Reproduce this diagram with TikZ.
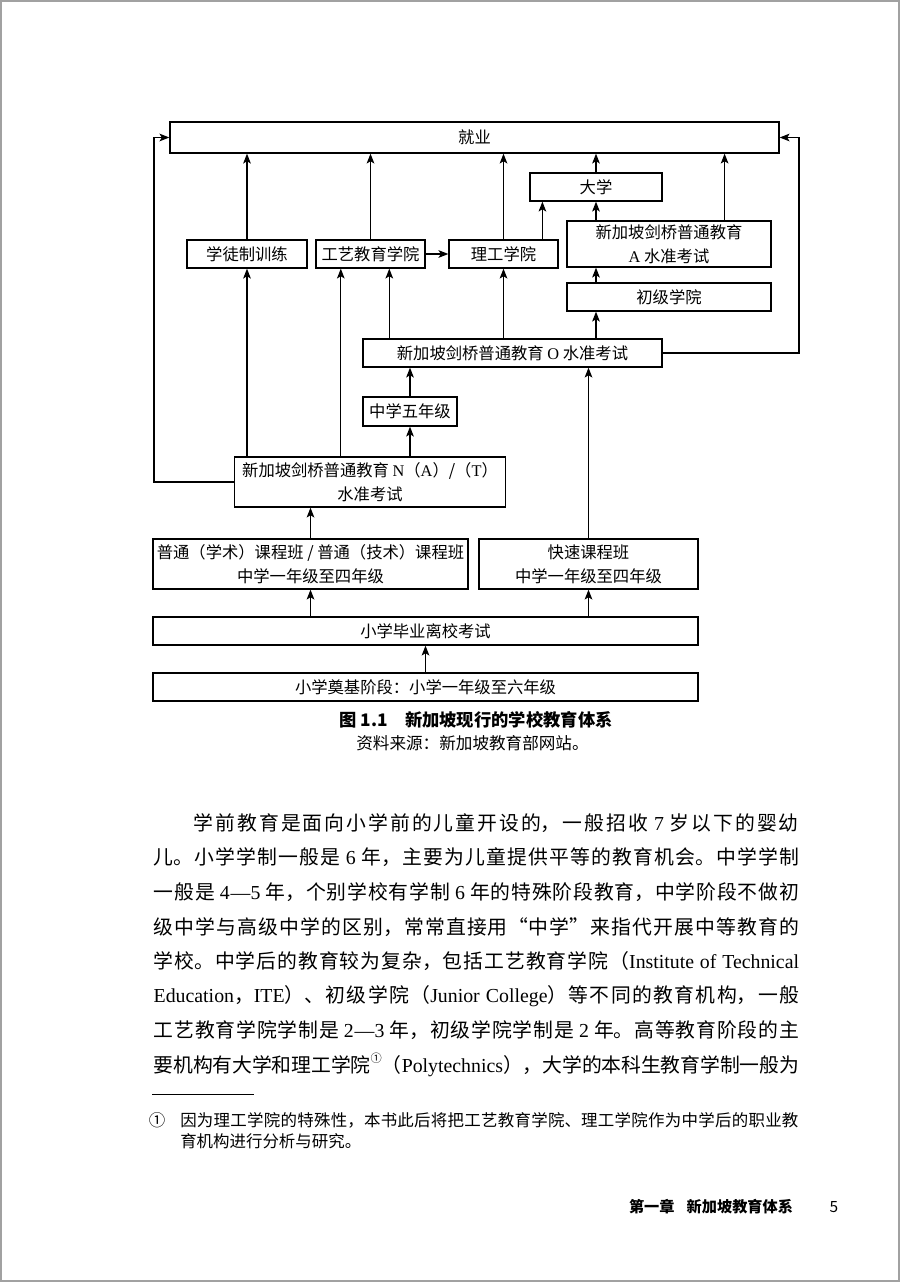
\documentclass[tikz,border=0pt]{standalone}
\usepackage{fontspec}
\setmainfont{Noto Sans CJK SC}
\newfontfamily\lat{Liberation Serif}
\usetikzlibrary{arrows.meta}
\XeTeXlinebreaklocale "zh"
\XeTeXlinebreakskip=0pt plus 2pt minus 0.5pt

\newcommand\diagfont{\fontsize{11.6pt}{17pt}\selectfont}
\newcommand\bodyfont{\fontsize{14.1pt}{20pt}\selectfont}
\newcommand\notefont{\fontsize{11.7pt}{14pt}\selectfont}
\newcommand\jline[1]{\tolerance=9999\parfillskip=0pt\relax#1\par}

\tikzset{
  stage/.style={draw, line width=0.9pt, inner sep=0pt, align=center, font=\diagfont},
  wh/.style 2 args={minimum width=#1*0.025cm, minimum height=#2*0.025cm},
  flow/.style={->, line width=0.9pt},
  bodyline/.style={anchor=west, inner sep=0pt, font=\bodyfont, text width=#1, align=justify},
  noteline/.style={anchor=west, inner sep=0pt, font=\notefont, text width=#1, align=justify},
}

\begin{document}
\begin{tikzpicture}[x=0.025cm, y=-0.025cm, >={Stealth[length=7pt,width=5.4pt,inset=1.6pt]}]
  \useasboundingbox (0,0) rectangle (900,1282);
  \draw[line width=1.4pt, black!37] (1,1) rectangle (899,1281);

  % stages
  \node[stage, wh={609}{31}] (jiuye) at (474.5,137.5) {就业};
  \node[stage, wh={132}{28}] (daxue) at (596,187) {大学};
  \node[stage, wh={120}{28}] (xuetu) at (247,254) {学徒制训练};
  \node[stage, wh={109}{28}] (gongyi) at (370.5,254) {工艺教育学院};
  \node[stage, wh={109}{28}] (ligong) at (503.5,254) {理工学院};
  \node[stage, wh={204}{46}] (alevel) at (669,244) {新加坡剑桥普通教育\\{\lat A} 水准考试};
  \node[stage, wh={204}{28}] (chuji) at (669,297) {初级学院};
  \node[stage, wh={299}{28}] (olevel) at (512.5,353) {新加坡剑桥普通教育 {\lat O} 水准考试};
  \node[stage, wh={94}{29}] (zhong5) at (410,411.5) {中学五年级};
  \node[stage, wh={271}{50}] (nlevel) at (370,482) {新加坡剑桥普通教育 {\lat N}（{\lat A}）/（{\lat T}）\\水准考试};
  \node[stage, wh={315}{50}] (putong) at (310.5,564) {普通（学术）课程班 / 普通（技术）课程班\\中学一年级至四年级};
  \node[stage, wh={219}{50}] (kuaisu) at (588.5,564) {快速课程班\\中学一年级至四年级};
  \node[stage, wh={545}{28}] (biye) at (425.5,631) {小学毕业离校考试};
  \node[stage, wh={545}{28}] (dianji) at (425.5,687) {小学奠基阶段：小学一年级至六年级};

  % columns of the connectors
  \coordinate (gx1) at (340.8,0);
  \coordinate (gx2) at (389.3,0);
  \coordinate (lx) at (542.4,0);
  \coordinate (ax) at (724.6,0);
  \coordinate (lside) at (154,0);
  \coordinate (rside) at (799,0);

  % into 就业
  \foreach \n in {xuetu,gongyi,ligong,daxue}
    \draw[flow] (\n.north) -- (\n.north |- jiuye.south);
  \draw[flow] (alevel.north -| ax) -- (jiuye.south -| ax);
  \draw[flow] (nlevel.west) -| (lside |- jiuye) -- (jiuye.west);
  \draw[flow] (olevel.east) -| (rside |- jiuye) -- (jiuye.east);

  % upper part
  \draw[flow] (gongyi) -- (ligong);
  \draw[flow] (ligong.north -| lx) -- (daxue.south -| lx);
  \draw[flow] (alevel.north -| daxue) -- (daxue.south);
  \draw[flow] (chuji.north -| daxue) -- (alevel.south -| daxue);
  \draw[flow] (olevel.north -| daxue) -- (chuji.south -| daxue);
  \draw[flow] (olevel.north -| ligong) -- (ligong.south);
  \draw[flow] (olevel.north -| gx2) -- (gongyi.south -| gx2);
  \draw[flow] (nlevel.north -| gx1) -- (gongyi.south -| gx1);
  \draw[flow] (nlevel.north -| xuetu) -- (xuetu.south);
  \draw[flow] (nlevel.north -| zhong5) -- (zhong5.south);
  \draw[flow] (zhong5.north) -- (olevel.south -| zhong5);
  \draw[flow] (kuaisu.north) -- (olevel.south -| kuaisu);

  % lower part
  \draw[flow] (putong.north) -- (nlevel.south -| putong);
  \draw[flow] (biye.north -| putong) -- (putong.south);
  \draw[flow] (biye.north -| kuaisu) -- (kuaisu.south);
  \draw[flow] (dianji.north) -- (biye.south);

  % caption
  \node[font=\bfseries\fontsize{12.3pt}{14pt}\selectfont] (caption) at (476,720) {图 1.1\hspace{1em}新加坡现行的学校教育体系};
  \node[font=\fontsize{11.8pt}{14pt}\selectfont] (source) at (472.5,743) {资料来源：新加坡教育部网站。};

  % body text
  \node[bodyline=15.12cm] (p1) at (193.6,823) {\jline{学前教育是面向小学前的儿童开设的，一般招收 {\lat 7} 岁以下的婴幼}};
  \node[bodyline=16.13cm] (p2) at (153.4,857.6) {\jline{儿。小学学制一般是 {\lat 6} 年，主要为儿童提供平等的教育机会。中学学制}};
  \node[bodyline=16.13cm] (p3) at (153.4,892.2) {\jline{一般是 {\lat 4—5} 年，个别学校有学制 {\lat 6} 年的特殊阶段教育，中学阶段不做初}};
  \node[bodyline=16.13cm] (p4) at (153.4,926.8) {\jline{级中学与高级中学的区别，常常直接用“中学”来指代开展中等教育的}};
  \node[bodyline=16.13cm] (p5) at (153.4,961.4) {\jline{学校。中学后的教育较为复杂，包括工艺教育学院（{\lat Institute of Technical}}};
  \node[bodyline=16.13cm] (p6) at (153.4,996) {\jline{{\lat Education}，{\lat ITE}）、初级学院（{\lat Junior College}）等不同的教育机构，一般}};
  \node[bodyline=16.13cm] (p7) at (153.4,1030.6) {\jline{工艺教育学院学制是 {\lat 2—3} 年，初级学院学制是 {\lat 2} 年。高等教育阶段的主}};
  \node[bodyline=16.13cm] (p8) at (153.4,1065.2) {\jline{要机构有大学和理工学院\raisebox{0.5em}{\fontsize{8pt}{8pt}\selectfont ①}（{\lat Polytechnics}），大学的本科生教育学制一般为}};

  % footnote
  \coordinate (rule) at (152,1094);
  \draw[line width=0.7pt] (rule) -- ++(102,0);
  \node[font=\notefont] (fnmark) at (157,1120) {①};
  \node[noteline=15.45cm] (fn1) at (180,1120) {\jline{因为理工学院的特殊性，本书此后将把工艺教育学院、理工学院作为中学后的职业教}};
  \node[noteline=15.45cm] (fn2) at (180,1141) {育机构进行分析与研究。};

  % running foot
  \node[anchor=east, font=\bfseries\fontsize{10.8pt}{12pt}\selectfont] (running) at (798,1207) {第一章\hspace{0.8em}新加坡教育体系};
  \node[font=\fontsize{11pt}{12pt}\selectfont] (pageno) at (834,1207) {5};
\end{tikzpicture}
\end{document}
